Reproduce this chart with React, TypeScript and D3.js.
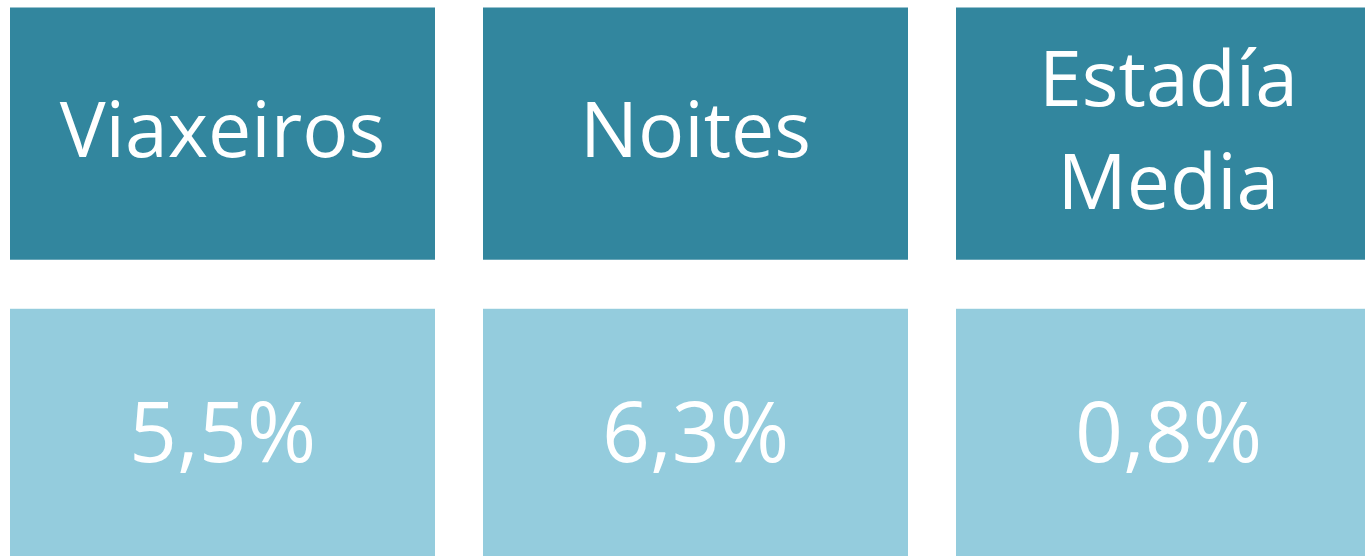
import { scaleBand } from "d3";

const categories = ["Viaxeiros", "Noites", "Estadía Media"];
const headerLines = [["Viaxeiros"], ["Noites"], ["Estadía", "Media"]];
const values = ["5,5%", "6,3%", "0,8%"];
const rows = ["header", "value"];

const W = 1365;
const H = 556;
const DARK = "#32869E";
const LIGHT = "#94CCDD";
const FONT = "'Open Sans', Lato, sans-serif";
const FS = 77;
const FS_VAL = 84;
const CAP = 0.714;
const LINE = 103;

export default function App() {
  const x = scaleBand<string>().domain(categories).range([10, 1381]).paddingInner(48 / 473).paddingOuter(0);
  const y = scaleBand<string>().domain(rows).range([7.5, 561]).paddingInner(49 / 301).paddingOuter(0);
  const bw = x.bandwidth();
  const bh = y.bandwidth();

  return (
    <svg width={W} height={H} style={{ position: "absolute", left: 0, top: 0 }}>
      {categories.map((c, i) => {
        const cx = (x(c) ?? 0) + bw / 2;
        const hy = (y("header") ?? 0) + bh / 2 - 4;
        const vy = (y("value") ?? 0) + bh / 2 - 3;
        const lines = headerLines[i];
        return (
          <g key={c}>
            <rect x={x(c)} y={y("header")} width={bw} height={bh} fill={DARK} />
            <rect x={x(c)} y={y("value")} width={bw} height={bh} fill={LIGHT} />
            {lines.map((t, j) => (
              <text
                key={t}
                x={cx}
                y={hy + (CAP * FS) / 2 + (j - (lines.length - 1) / 2) * LINE}
                textAnchor="middle"
                fill="#fff"
                fontFamily={FONT}
                fontSize={FS}
              >
                {t}
              </text>
            ))}
            <text
              x={cx}
              y={vy + (CAP * FS_VAL) / 2}
              textAnchor="middle"
              fill="#fff"
              fontFamily={FONT}
              fontSize={FS_VAL}
            >
              {values[i]}
            </text>
          </g>
        );
      })}
    </svg>
  );
}
